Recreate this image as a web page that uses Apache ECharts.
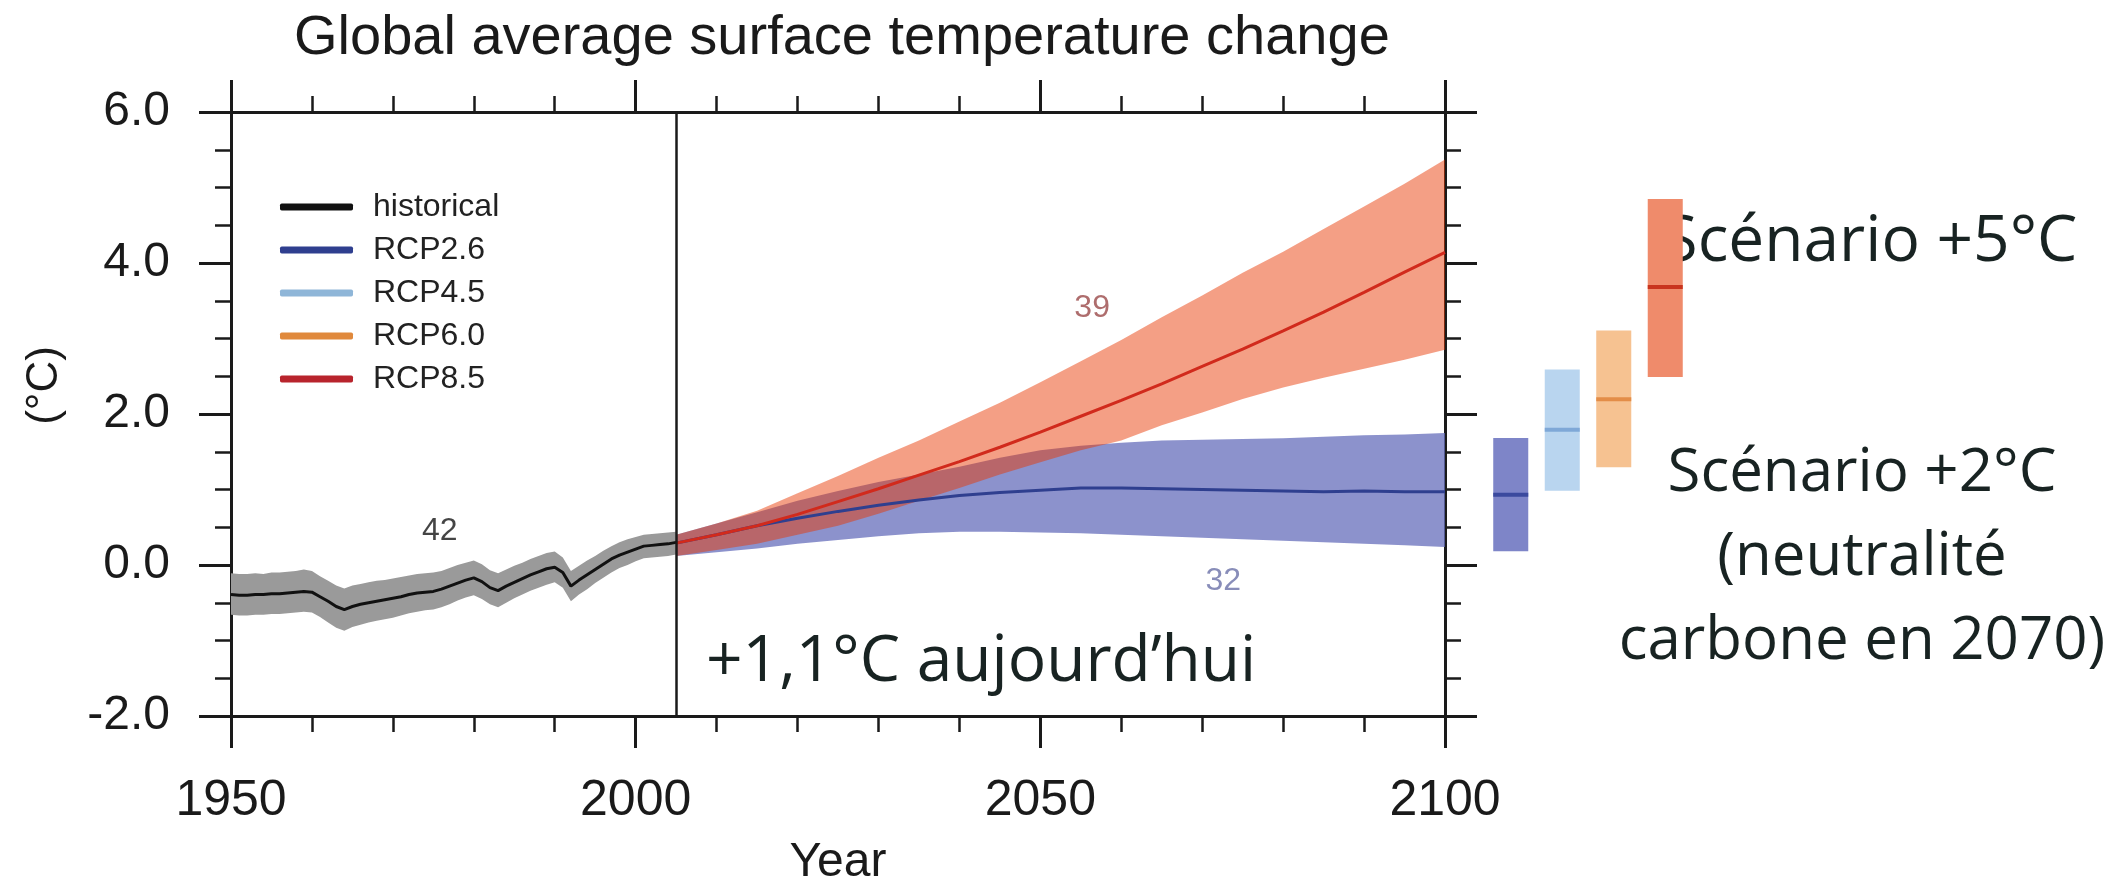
<!DOCTYPE html>
<html>
<head>
<meta charset="utf-8">
<script src="https://cdn.jsdelivr.net/npm/echarts@6/dist/echarts.min.js"></script>
<style>
html,body{margin:0;padding:0;background:#fff;}
#chart{width:2111px;height:892px;}
</style>
</head>
<body>
<div id="chart"></div>
<script>
// ---------------- DATA ----------------
const titleText = 'Global average surface temperature change';

const histYears = [1950,1951,1952,1953,1954,1955,1956,1957,1958,1959,1960,1961,1962,1963,1964,1965,1966,1967,1968,1969,1970,1971,1972,1973,1974,1975,1976,1977,1978,1979,1980,1981,1982,1983,1984,1985,1986,1987,1988,1989,1990,1991,1992,1993,1994,1995,1996,1997,1998,1999,2000,2001,2002,2003,2004,2005];
const histMean = [-0.39,-0.40,-0.40,-0.39,-0.39,-0.38,-0.38,-0.37,-0.36,-0.35,-0.36,-0.42,-0.48,-0.55,-0.59,-0.55,-0.52,-0.50,-0.48,-0.46,-0.44,-0.42,-0.39,-0.37,-0.36,-0.35,-0.32,-0.28,-0.24,-0.20,-0.17,-0.22,-0.30,-0.34,-0.28,-0.23,-0.18,-0.13,-0.09,-0.05,-0.03,-0.10,-0.28,-0.20,-0.13,-0.06,0.01,0.08,0.13,0.17,0.21,0.25,0.26,0.27,0.28,0.30];
const histLow  = [-0.66,-0.67,-0.67,-0.66,-0.66,-0.65,-0.65,-0.64,-0.63,-0.62,-0.63,-0.69,-0.76,-0.83,-0.87,-0.82,-0.79,-0.76,-0.74,-0.72,-0.70,-0.67,-0.64,-0.62,-0.60,-0.59,-0.56,-0.52,-0.47,-0.43,-0.40,-0.45,-0.52,-0.56,-0.50,-0.44,-0.39,-0.34,-0.30,-0.26,-0.23,-0.30,-0.48,-0.39,-0.32,-0.24,-0.17,-0.10,-0.04,0.00,0.05,0.09,0.10,0.11,0.12,0.14];
const histHigh = [-0.11,-0.12,-0.12,-0.11,-0.12,-0.10,-0.10,-0.09,-0.08,-0.06,-0.08,-0.15,-0.21,-0.27,-0.31,-0.27,-0.25,-0.23,-0.21,-0.20,-0.18,-0.16,-0.14,-0.12,-0.11,-0.10,-0.08,-0.04,0.00,0.03,0.06,0.01,-0.07,-0.11,-0.06,-0.01,0.03,0.08,0.12,0.16,0.18,0.10,-0.08,-0.01,0.06,0.12,0.19,0.25,0.30,0.34,0.37,0.40,0.41,0.42,0.43,0.44];

const rcpYears = [2005,2010,2015,2020,2025,2030,2035,2040,2045,2050,2055,2060,2065,2070,2075,2080,2085,2090,2095,2100];
const rcp85Mean = [0.29,0.40,0.52,0.67,0.84,1.01,1.19,1.37,1.56,1.76,1.97,2.18,2.40,2.63,2.86,3.10,3.35,3.61,3.88,4.14];
const rcp85High = [0.40,0.55,0.72,0.95,1.18,1.42,1.65,1.90,2.15,2.42,2.70,2.98,3.28,3.57,3.87,4.15,4.45,4.75,5.05,5.37];
const rcp85Low  = [0.12,0.20,0.28,0.40,0.52,0.68,0.85,1.02,1.20,1.36,1.52,1.65,1.85,2.02,2.20,2.35,2.48,2.60,2.72,2.85];
const rcp26Mean = [0.29,0.40,0.52,0.62,0.71,0.79,0.86,0.92,0.96,0.99,1.02,1.02,1.01,1.00,0.99,0.98,0.97,0.98,0.97,0.97];
const rcp26High = [0.40,0.55,0.70,0.85,0.98,1.10,1.20,1.30,1.42,1.52,1.58,1.62,1.65,1.66,1.67,1.68,1.70,1.72,1.73,1.75];
const rcp26Low  = [0.12,0.17,0.22,0.28,0.33,0.38,0.42,0.44,0.44,0.43,0.42,0.40,0.38,0.36,0.34,0.32,0.30,0.28,0.26,0.24];

const boxNames = ['RCP2.6','RCP4.5','RCP6.0','RCP8.5'];
const boxMean = [0.99, 1.84, 2.24, 3.71];
const boxLow  = [0.25, 1.04, 1.35, 2.53];
const boxHigh = [1.73, 2.63, 3.14, 4.86];

const legendNames = ['historical','RCP2.6','RCP4.5','RCP6.0','RCP8.5'];

const annoText = ['42','39','32'];
const annoX = [1975.8, 2056.4, 2072.6];
const annoY = [0.45, 3.40, -0.22];

const noteToday = '+1,1°C aujourd’hui';
const note5 = 'Scénario +5°C';
const note2 = 'Scénario +2°C\n(neutralité\ncarbone en 2070)';

// ---------------- STYLES ----------------
const INK = '#1a1a1a';
const AX_FONT = 'Liberation Sans';
const NOTE_FONT = 'Open Sans';
const NOTE_INK = '#182322';
const legendColors = ['#111111','#2f3f8f','#8fb6d8','#e0893c','#b8242c'];
const boxFill = ['#7e85c8','#b9d5ef','#f6c291','#ef8b6b'];
const boxLine = ['#3b4a9e','#7fa8d7','#e38d48','#c9341e'];
const annoColors = ['#151515','#9a4848','#6a70a8'];

// ---------------- HELPERS ----------------
function pairs(xs, ys){ return xs.map((x,i)=>[x, ys[i]]); }

// uncertainty band: one polygon through the library's coordinate system
function bandSeries(id, xs, lo, hi, color, opacity, z){
  return {
    name:id, type:'custom', xAxisIndex:0, yAxisIndex:0, silent:true, z:z,
    data: xs.map((x,i)=>[x, lo[i], hi[i]]),
    encode:{x:0, y:[1,2]},
    renderItem: function(params, api){
      if (params.dataIndex !== 0) return null;
      const upper = xs.map((x,i)=>api.coord([x, hi[i]]));
      const lower = xs.map((x,i)=>api.coord([x, lo[i]])).reverse();
      return {type:'polygon', shape:{points: upper.concat(lower)},
              style:{fill:color, opacity:opacity}};
    }
  };
}

function boxSeries(i){
  return {
    name: boxNames[i], type:'custom', xAxisIndex:2, yAxisIndex:2, silent:true,
    itemStyle:{color: boxFill[i]},
    data: [[i, boxMean[i], boxLow[i], boxHigh[i]]],
    encode:{x:0, y:[1,2,3]},
    renderItem: function(params, api){
      const c = api.value(0);
      const top = api.coord([c, api.value(3)]);
      const bot = api.coord([c, api.value(2)]);
      const mid = api.coord([c, api.value(1)]);
      const w = api.size([1, 0])[0] * 0.68;
      return {type:'group', children:[
        {type:'rect', shape:{x: top[0]-w/2, y: top[1], width: w, height: bot[1]-top[1]}, style:{fill: boxFill[i]}},
        {type:'rect', shape:{x: top[0]-w/2, y: mid[1]-2, width: w, height: 4}, style:{fill: boxLine[i]}}
      ]};
    }
  };
}

function xAxisCfg(pos, showLabels){
  return {
    type:'value', gridIndex:0, position:pos, min:1950, max:2100, interval:50,
    axisLine:{show:true, onZero:false, lineStyle:{color:INK, width:3}},
    axisTick:{show:true, inside:false, length:32, lineStyle:{color:INK, width:3}},
    minorTick:{show:true, splitNumber:5, length:16, lineStyle:{color:INK, width:2.5}},
    splitLine:{show:false}, minorSplitLine:{show:false},
    axisLabel:{show:showLabels, margin:60, fontFamily:AX_FONT, fontSize:50, color:INK,
               formatter: v => String(v)},
    name: showLabels ? 'Year' : '', nameLocation:'middle', nameGap:123,
    nameTextStyle:{fontFamily:AX_FONT, fontSize:48, color:INK}
  };
}
function yAxisCfg(pos, showLabels){
  return {
    type:'value', gridIndex:0, position:pos, min:-2, max:6, interval:2,
    axisLine:{show:true, onZero:false, lineStyle:{color:INK, width:3}},
    axisTick:{show:true, inside:false, length:32, lineStyle:{color:INK, width:3}},
    minorTick:{show:true, splitNumber:4, length:16, lineStyle:{color:INK, width:2.5}},
    splitLine:{show:false}, minorSplitLine:{show:false},
    axisLabel:{show:showLabels, margin:61, fontFamily:AX_FONT, fontSize:48, color:INK,
               padding:[8,0,0,0], formatter: v => v.toFixed(1)},
    name: showLabels ? '(°C)' : '', nameLocation:'middle', nameRotate:90, nameGap:164,
    nameTextStyle:{fontFamily:AX_FONT, fontSize:44, color:INK, padding:[0,0,0,57]}
  };
}

// ---------------- CHART ----------------
const chart = echarts.init(document.getElementById('chart'), null, {renderer:'canvas'});

const option = {
  animation:false,
  backgroundColor:'#ffffff',
  title:{text:titleText, left:294, top:11, padding:0,
         textStyle:{fontFamily:AX_FONT, fontSize:56, fontWeight:'normal', color:INK}},
  legend:{
    orient:'vertical', left:275, top:186, itemWidth:73, itemHeight:7, itemGap:11,
    icon:'roundRect', selectedMode:false,
    itemStyle:{borderWidth:0},
    textStyle:{fontFamily:AX_FONT, fontSize:32, lineHeight:32, color:'#222', padding:[0,0,0,15]},
    data: legendNames.map((n,i)=>({name:n, itemStyle:{color:legendColors[i], borderWidth:0}}))
  },
  grid:[
    {left:231, top:112, width:1214, height:611},
    {left:1485, top:112, width:206, height:611}
  ],
  xAxis:[
    xAxisCfg('bottom', true),
    xAxisCfg('top', false),
    {type:'category', gridIndex:1, data:boxNames, show:false, boundaryGap:true}
  ],
  yAxis:[
    yAxisCfg('left', true),
    yAxisCfg('right', false),
    {type:'value', gridIndex:1, min:-2, max:6, interval:2, show:false}
  ],
  graphic:[
    {type:'text', x:706, y:663, silent:true,
     style:{text:noteToday, fontFamily:NOTE_FONT, fontSize:64, fill:NOTE_INK, align:'left', verticalAlign:'middle'}},
    {type:'text', x:1870, y:243, silent:true,
     style:{text:note5, fontFamily:NOTE_FONT, fontSize:64, fill:NOTE_INK, align:'center', verticalAlign:'middle'}},
    {type:'text', x:1862, y:432, silent:true,
     style:{text:note2, fontFamily:NOTE_FONT, fontSize:60, lineHeight:84, fill:NOTE_INK, align:'center', verticalAlign:'top'}}
  ],
  series:[
    bandSeries('hist-band', histYears, histLow, histHigh, '#9a9a9a', 1, 1),
    bandSeries('rcp26-band', rcpYears, rcp26Low, rcp26High, '#666dbb', 0.75, 1),
    bandSeries('rcp85-band', rcpYears, rcp85Low, rcp85High, '#e83700', 0.48, 2),
    {name:'historical', type:'line', xAxisIndex:0, yAxisIndex:0, data:pairs(histYears, histMean),
     symbol:'none', silent:true, z:3, itemStyle:{color:'#111'}, lineStyle:{color:'#111', width:3},
     markLine:{silent:true, symbol:'none', label:{show:false},
               lineStyle:{color:INK, width:2.5, type:'solid'}, data:[{xAxis:2005}]}},
    {name:'RCP2.6', type:'line', xAxisIndex:0, yAxisIndex:0, data:pairs(rcpYears, rcp26Mean),
     symbol:'none', silent:true, z:3, itemStyle:{color:'#2f3f8f'}, lineStyle:{color:'#2f3f8f', width:3}},
    {name:'RCP8.5', type:'line', xAxisIndex:0, yAxisIndex:0, data:pairs(rcpYears, rcp85Mean),
     symbol:'none', silent:true, z:4, itemStyle:{color:'#d12a1c'}, lineStyle:{color:'#d12a1c', width:3}},
    {name:'annotations', type:'scatter', xAxisIndex:0, yAxisIndex:0, silent:true, z:5,
     symbolSize:1, itemStyle:{color:'rgba(0,0,0,0)'},
     data: annoX.map((x,i)=>({value:[x, annoY[i]],
       label:{show:true, position:'inside', formatter:annoText[i], color:annoColors[i],
              fontFamily:AX_FONT, fontSize:32}}))},
    ...boxNames.map((n,i)=>boxSeries(i))
  ]
};
chart.setOption(option);
</script>
</body>
</html>
